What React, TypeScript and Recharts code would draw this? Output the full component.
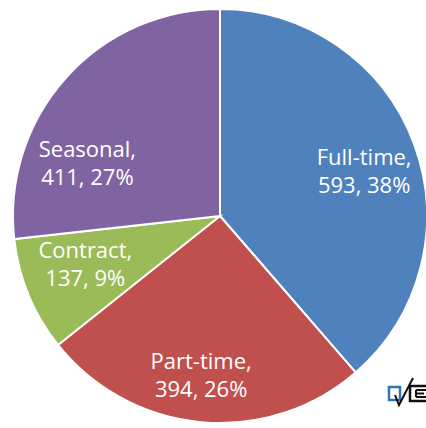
import React from 'react';
import { PieChart, Pie, Cell } from 'recharts';

const categories = ['Full-time', 'Part-time', 'Contract', 'Seasonal'];
const counts = [593, 394, 137, 411];
const percents = ['38%', '26%', '9%', '27%'];
const colors = ['#4F81BD', '#C0504D', '#9BBB59', '#8064A2'];

// per-slice label nudges (angle offset in degrees, radius as fraction of outer radius)
const labelAngleNudge = [-3, -1.5, -3, 20];
const labelRadius = [0.73, 0.772, 0.69, 0.69];

const data = categories.map((name, i) => ({ name, value: counts[i], pct: percents[i] }));

const RAD = Math.PI / 180;

const renderLabel = (props: any) => {
  const { cx, cy, midAngle, outerRadius, index } = props;
  const a = (midAngle + labelAngleNudge[index]) * RAD;
  const r = outerRadius * labelRadius[index];
  const x = cx + r * Math.cos(a);
  const y = cy - r * Math.sin(a);
  return (
    <text x={x} y={y} fill="#ffffff" textAnchor="middle" fontFamily="'Open Sans', sans-serif" fontSize={22}>
      <tspan x={x} dy={-6}>{`${data[index].name},`}</tspan>
      <tspan x={x} dy={28}>{`${data[index].value}, ${data[index].pct}`}</tspan>
    </text>
  );
};

export default function App() {
  return (
    <div style={{ position: 'absolute', left: 0, top: 0, width: 426, height: 428, background: '#fff' }}>
      <PieChart width={426} height={428} margin={{ top: 0, right: 0, bottom: 0, left: 0 }}>
        <Pie
          data={data}
          dataKey="value"
          nameKey="name"
          cx={220}
          cy={216}
          outerRadius={207}
          startAngle={90}
          endAngle={-270}
          stroke="#ffffff"
          strokeWidth={2}
          label={renderLabel}
          labelLine={false}
          isAnimationActive={false}
        >
          {data.map((d, i) => (
            <Cell key={d.name} fill={colors[i]} />
          ))}
        </Pie>
      </PieChart>
      <svg width={426} height={428} style={{ position: 'absolute', left: 0, top: 0, pointerEvents: 'none' }}>
        <rect x={389} y={387} width={11} height={13} fill="none" stroke="#2E75B6" strokeWidth={2.5} />
        <path d="M395 395 L399 405 L413 378" fill="none" stroke="#111" strokeWidth={2} />
        <rect x={410} y={386} width={20} height={15} fill="none" stroke="#111" strokeWidth={2.5} />
        <path d="M416 390 L416 397 M416 390 L426 390 M416 393.5 L424 393.5 M416 397 L426 397" stroke="#111" strokeWidth={2} />
      </svg>
    </div>
  );
}
